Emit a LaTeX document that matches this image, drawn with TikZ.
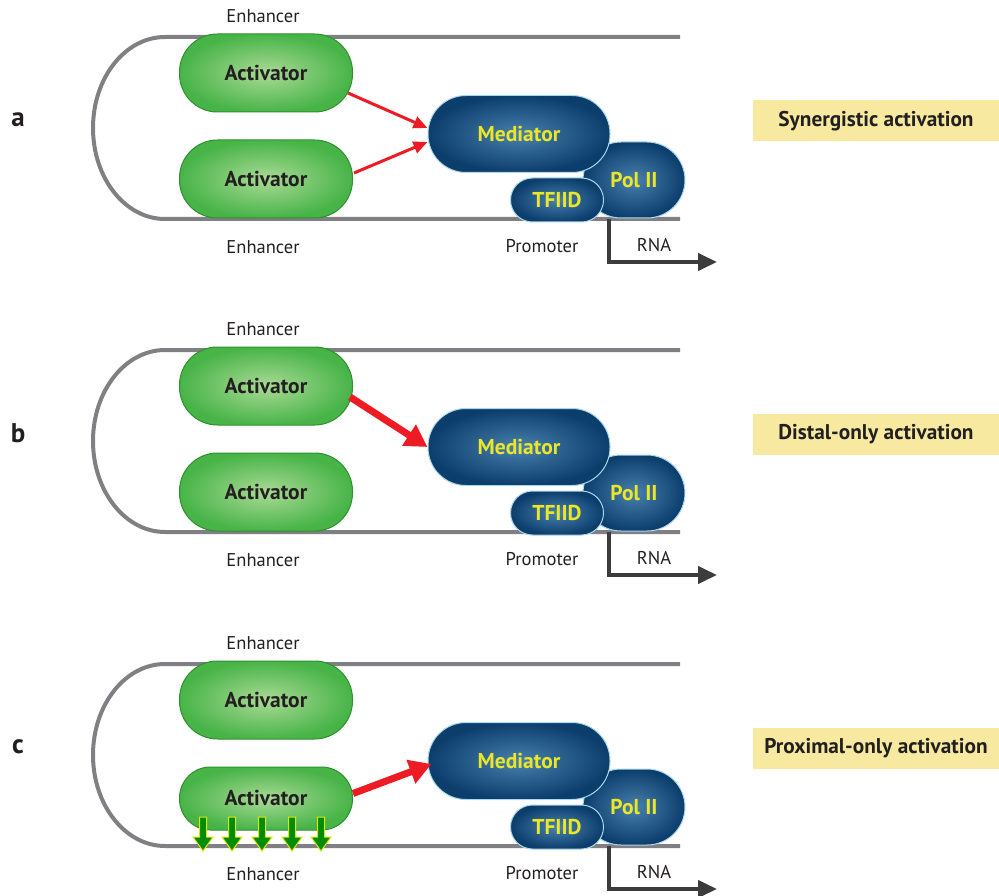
\documentclass[tikz,border=0pt]{standalone}
\usepackage{fontspec}
\setmainfont{PT Sans}
\usetikzlibrary{arrows.meta,positioning}

\definecolor{dnagray}{RGB}{128,128,132}
\definecolor{actin}{RGB}{170,218,150}
\definecolor{actout}{RGB}{72,180,72}
\definecolor{actline}{RGB}{45,145,45}
\definecolor{medin}{RGB}{72,128,172}
\definecolor{medout}{RGB}{12,62,108}
\definecolor{medline}{RGB}{170,215,240}
\definecolor{labyellow}{RGB}{235,230,40}
\definecolor{boxyellow}{RGB}{247,234,160}
\definecolor{rnagray}{RGB}{60,60,60}
\definecolor{actred}{RGB}{237,28,36}
\definecolor{inkdark}{RGB}{35,31,32}

\tikzstyle{dna} = [draw=dnagray, line width=4pt]
\tikzstyle{activator} = [rectangle, rounded corners=38pt, minimum width=173pt, minimum height=78pt, inner color=actin, outer color=actout, draw=actline, line width=1pt, text=inkdark, font=\fontsize{21.5}{24}\selectfont\bfseries]
\tikzstyle{mediator} = [rectangle, rounded corners=38pt, minimum width=182pt, minimum height=77pt, inner color=medin, outer color=medout, draw=medline, line width=1pt, text=labyellow, font=\fontsize{21.5}{24}\selectfont\bfseries]
\tikzstyle{polii} = [mediator, minimum width=102pt, minimum height=76pt]
\tikzstyle{tfiid} = [mediator, rounded corners=22pt, minimum width=93pt, minimum height=44pt]
\tikzstyle{tag} = [text=inkdark, font=\fontsize{18.5}{21}\selectfont]
\tikzstyle{mode} = [fill=boxyellow, minimum width=246pt, minimum height=41pt, text=inkdark, font=\fontsize{21.3}{24}\selectfont\bfseries]
\tikzstyle{rna} = [draw=rnagray, line width=4pt, -{Triangle[length=19pt,width=17pt]}]
\tikzstyle{thinred} = [draw=actred, line width=3pt, -{Triangle[length=14pt,width=12pt]}]
\tikzstyle{thickred} = [draw=actred, line width=7pt, -{Triangle[length=22pt,width=24pt]}]
\tikzstyle{bind} = [fill=green!55!black, draw=yellow!85!green, line width=1pt]

\begin{document}
\begin{tikzpicture}[x=1pt, y=-1pt]
  \useasboundingbox (0,0) rectangle (999,896);

  \foreach \off/\p/\mode/\ah/\ay/\ar in {0/a/Synergistic activation/78/179/38, 313/b/Distal-only activation/78/179/38, 627/c/Proximal-only activation/63/171.5/31}{
  \begin{scope}[shift={(0,\off)}]
    % looped DNA
    \draw[dna] (680,37) -- (165,37) arc[start angle=270, end angle=90, x radius=72, y radius=91] -- (680,219);
    \node[tag] (enhtop\p) at (263,16) {Enhancer};
    \node[tag] (enhbot\p) at (263,247) {Enhancer};
    \node[tag] (prom\p) at (542,246) {Promoter};
    \node[tag] (rnalab\p) at (654,245) {RNA};
    \coordinate (tss\p) at (609,219);
    \coordinate (rnaend\p) at (717,262);
    \draw[rna] (tss\p) |- (rnaend\p);

    % proteins
    \node[activator] (act1\p) at (266,73) {Activator};
    \node[activator, rounded corners=\ar pt, minimum height=\ah pt] (act2\p) at (266,\ay) {Activator};
    \node[polii] (pol\p) at (634,180) {\raisebox{-3pt}{Pol II}};
    \node[mediator] (med\p) at (519,134) {Mediator};
    \node[tfiid] (tf\p) at (557,200) {TFIID};

    \node[font=\fontsize{27}{30}\selectfont\bfseries, text=inkdark] (lab\p) at (18,120) {\p};
    \node[mode] (mode\p) at (876,121) {\mode};
  \end{scope}
  }

  % a: both activators
  \draw[thinred] ([shift={(-5,20)}]act1a.east) -- ([shift={(0,-6)}]meda.west);
  \draw[thinred] ([shift={(1,-6)}]act2a.east) -- ([shift={(0,8)}]meda.west);
  % b: distal
  \draw[thickred] ([shift={(-3,11)}]act1b.east) -- (medb.west);
  % c: proximal
  \draw[thickred] ([shift={(0,-5)}]act2c.east) -- ([shift={(4,3)}]medc.west);
  \foreach \gx in {203,232,262,292,321}
    \draw[bind] (\gx-3.5,817) -- (\gx-3.5,837) -- (\gx-10,837) -- (\gx,851) -- (\gx+10,837) -- (\gx+3.5,837) -- (\gx+3.5,817) -- cycle;
\end{tikzpicture}
\end{document}
